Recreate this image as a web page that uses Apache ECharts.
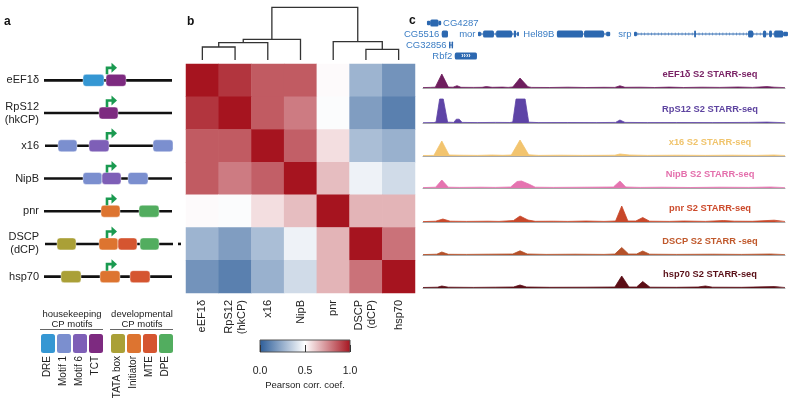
<!DOCTYPE html>
<html><head><meta charset="utf-8">
<script src="https://cdn.jsdelivr.net/npm/echarts@6/dist/echarts.min.js"></script>
<style>html,body{margin:0;padding:0;background:#fff}#c{width:800px;height:407px}</style>
</head><body><div id="c"></div>
<script>
// ================= DATA =================
// Panel a: promoter schematics
const promoters = ['eEF1δ','RpS12\n(hkCP)','x16','NipB','pnr','DSCP\n(dCP)','hsp70'];
const motifNames = ['DRE','Motif 1','Motif 6','TCT','TATA box','Initiator','MTE','DPE'];
const motifGroupTitles = ['housekeeping\nCP motifs','developmental\nCP motifs'];
const motifGroupMembers = [[0,1,2,3],[4,5,6,7]];
// [start, promoterIndex, end, motifIndex] (schematic units)
const promoterMotifs = [
  [39,0,60,0],[62,0,82,3],
  [55,1,74,3],
  [14,2,33,1],[45,2,65,2],[109,2,129,1],
  [39,3,58,1],[58,3,77,2],[84,3,104,1],
  [57,4,76,5],[95,4,115,7],
  [13,5,32,4],[55,5,74,5],[74,5,93,6],[96,5,115,7],
  [17,6,37,4],[56,6,76,5],[86,6,106,6]
];
// [start, promoterIndex, end]
const promoterSpans = [[0,0,128],[0,1,128],[1,2,129],[0,3,128],[0,4,128],[1,5,129],[0,6,128],[134,5,137]];
// [TSS position, promoterIndex]
const tssPositions = [[63,0],[63,1],[63,2],[63,3],[63,4],[63,5],[63,6]];

// Panel b: correlation heatmap
const corrLabels = ['eEF1δ','RpS12\n(hkCP)','x16','NipB','pnr','DSCP\n(dCP)','hsp70'];
const corrMatrix = [
  [1.00,0.93,0.85,0.85,0.51,0.27,0.17],
  [0.93,1.00,0.85,0.78,0.49,0.20,0.11],
  [0.85,0.85,1.00,0.84,0.57,0.30,0.26],
  [0.85,0.78,0.84,1.00,0.64,0.46,0.39],
  [0.51,0.49,0.57,0.64,1.00,0.66,0.66],
  [0.27,0.20,0.30,0.46,0.66,1.00,0.80],
  [0.17,0.11,0.26,0.39,0.66,0.80,1.00]
];
// linkage: [nodeA, nodeB, height]  (leaves 0..6, merges 7..)
const dendroMerges = [[0,1,0.130],[7,2,0.173],[8,3,0.207],[5,6,0.107],[4,10,0.183],[9,11,0.527]];
const colorbarTicks = [0, 0.5, 1];
const colorbarTitle = 'Pearson corr. coef.';

// Panel c: genes (genomic units 0..100)
const geneNames = ['CG4287','CG5516','CG32856','Rbf2','mor','Hel89B','srp'];
const geneSpans = [[0,1.1,5.0],[1,5.2,6.9],[2,7.2,8.3],[3,8.8,14.9],[1,15.2,26.5],[1,37.0,51.7],[1,58.3,100.8]]; // [row,start,end]
const geneExons = [
  [[1.1,2.0,0],[2.0,4.3,1],[4.3,5.0,0]],
  [[5.2,6.9,1]],
  [[7.2,7.6,1],[7.9,8.3,1]],
  [[8.8,14.9,1]],
  [[15.2,16.0,0],[16.6,19.6,1],[20.2,24.6,1],[25.1,25.7,1],[26.0,26.5,0]],
  [[37.0,44.2,1],[44.5,50.0,1],[50.6,51.7,0]],
  [[58.3,59.1,0],[74.9,75.4,1],[89.8,91.2,1],[93.9,94.8,1],[95.6,96.4,1],[97.0,99.5,1],[99.5,100.8,0]]
];
const geneLabelSide = ['right','left','left','left','left','left','left'];
const geneStrandMarks = [0,0,0,1,0,0,0];

// STARR-seq tracks: [position, signal]
const trackNames = ['eEF1δ S2 STARR-seq','RpS12 S2 STARR-seq','x16 S2 STARR-seq','NipB S2 STARR-seq','pnr S2 STARR-seq','DSCP S2 STARR -seq','hsp70 S2 STARR-seq'];
const signalEEF1d = [[0,0.4],[2,0.6],[3.4,0.8],[5.2,14],[7,0.9],[8.3,0.8],[9.4,2.3],[10.5,0.7],[14,0.6],[16.3,0.7],[17.5,1.4],[19.1,0.7],[22,0.9],[23.5,0.6],[24.8,1],[26.8,10],[29,1.2],[30,0.6],[35,0.5],[40,0.8],[45,0.5],[50,0.7],[53,0.6],[54.4,2.2],[55.8,0.7],[60,0.8],[64,0.5],[68,0.9],[72,0.5],[77,0.8],[82,0.6],[87,1],[91,0.6],[95,1.4],[97,0.8],[100,0.4]];
const signalRpS12 = [[0,0.3],[3,0.4],[3.6,1],[4.6,24],[5.6,24],[6.8,0.8],[8.5,0.6],[9.2,3.8],[10,3.8],[10.8,0.6],[15,0.4],[20,0.6],[24,0.5],[24.8,1],[25.7,24],[28.2,24],[29.2,0.8],[32,0.4],[40,0.5],[48,0.4],[53.2,0.6],[54.4,3],[55.8,0.6],[62,0.4],[70,0.5],[80,0.4],[90,0.6],[95,0.9],[100,0.3]];
const signalX16 = [[0,0.5],[3,0.6],[3.4,1],[5.2,15],[7.2,1],[10,0.8],[15,0.6],[19,1],[22,0.7],[24.4,1],[26.8,16],[29.2,1.2],[32,0.6],[38,0.8],[44,0.6],[50,0.7],[53,0.8],[54.4,2],[57,1],[62,0.6],[70,0.8],[78,0.6],[85,0.8],[92,0.6],[97,1],[100,0.5]];
const signalNipB = [[0,0.4],[3.5,0.8],[5.2,8],[7,0.8],[10,0.6],[16,0.8],[20,0.6],[24.2,1],[26,6.5],[27.2,7],[29.5,3.5],[31,0.8],[36,0.6],[45,0.8],[52.6,1],[54.4,7],[56,1],[60,0.6],[66,0.8],[74,0.5],[82,0.8],[90,0.6],[96,1],[100,0.4]];
const signalPnr = [[0,0.4],[3.5,0.8],[5.5,3],[7.5,0.8],[12,0.6],[18,0.8],[21,0.6],[25,1.5],[26.8,6],[29,2],[31,0.7],[36,0.8],[40,0.6],[45,1],[50,0.6],[53.2,1],[54.9,16],[56.6,1],[58.8,1],[60.7,4.5],[62.6,0.8],[68,0.6],[72,1],[78,0.6],[83,1.5],[86,0.8],[91,0.7],[97,1.8],[100,0.5]];
const signalDSCP = [[0,0.4],[3.8,0.8],[5.2,3],[7,0.7],[12,0.6],[18,0.8],[24.8,1],[26.8,4.2],[28.8,1],[34,0.6],[42,0.8],[50,0.6],[53,1],[54.9,7.5],[56.8,1],[59,1],[60.7,4],[62.6,0.8],[70,0.6],[80,0.8],[88,0.6],[96,1],[100,0.4]];
const signalHsp70 = [[0,0.5],[4,0.8],[5.2,2],[7,0.8],[14,0.6],[20,0.8],[25,1],[26.8,3],[28.6,1],[35,0.7],[45,0.8],[53,1],[54.9,12],[56.9,1],[59,1],[60.7,6.5],[62.7,0.8],[70,0.7],[76,1],[78,2],[80,0.8],[88,0.7],[97,1.4],[100,0.5]];
const trackSignals = [signalEEF1d, signalRpS12, signalX16, signalNipB, signalPnr, signalDSCP, signalHsp70];

// ================= STYLE =================
const FONT = '"Liberation Sans", Arial, Helvetica, sans-serif';
const motifColors = ['#3597d3','#7b8fcf','#7e5fb7','#7d2a80','#aaa037','#dd7430','#d55530','#52ad5f'];
const heatColors = ['#2b5c98','#ffffff','#a6141f'];
const tssColor = '#1a9a50';
const geneColor = '#2c68b0', geneLabelColor = '#3b7dc4';
const trackColors = ['#6e1e5e','#5e44a6','#f2c46f','#e574b0','#c8472a','#b4512a','#5b0e16'];
const trackLabelColors = ['#7a2466','#5e44a0','#f0c46c','#e46fac','#cc4b2c','#c0592c','#5a1018'];
const trackBaselines = [88,123,156,188,222,255,288];
const trackHeight = 26;

// ================= BUILD =================
const chart = echarts.init(document.getElementById('c'));

const dendroNodes = (function(){
  const nodes = [];
  for (let i = 0; i < corrLabels.length; i++) nodes.push({x: i + 0.5, h: 0});
  dendroMerges.forEach(m => nodes.push({x: (nodes[m[0]].x + nodes[m[1]].x) / 2, h: m[2]}));
  return nodes;
})();

const heatData = [];
corrMatrix.forEach((row, r) => row.forEach((v, c) => heatData.push([c, r, v])));

const grids = [
  {left:44, top:64, width:130, height:229},
  {left:186, top:64, width:229, height:229},
  {left:186, top:7, width:229, height:53},
  {left:260, top:340, width:90, height:12, show:true,
   backgroundColor: new echarts.graphic.LinearGradient(0,0,1,0,[
     {offset:0,color:heatColors[0]},{offset:0.5,color:heatColors[1]},{offset:1,color:heatColors[2]}]),
   borderColor:'#555', borderWidth:1},
  {left:423, top:17.5, width:362, height:44}
];
const xAxes = [
  {gridIndex:0, type:'value', min:0, max:130, show:false},
  {gridIndex:1, type:'category', data:corrLabels, axisLine:{show:false}, axisTick:{show:false},
   axisLabel:{rotate:90, margin:7, fontSize:11, color:'#222', lineHeight:13, interval:0, fontFamily:FONT}},
  {gridIndex:2, type:'value', min:0, max:7, show:false},
  {gridIndex:3, type:'value', min:0, max:1, interval:0.5,
   axisLine:{show:false}, splitLine:{show:false},
   axisTick:{show:true, inside:true, length:7, lineStyle:{color:'#333', width:1}},
   axisLabel:{margin:14, fontSize:10.5, color:'#222', fontFamily:FONT, formatter: v => colorbarTicks.indexOf(v) >= 0 ? v.toFixed(1) : ''},
   name: colorbarTitle, nameLocation:'middle', nameGap:28,
   nameTextStyle:{fontSize:9.5, color:'#222', fontFamily:FONT}},
  {gridIndex:4, type:'value', min:0, max:100, show:false}
];
const yAxes = [
  {gridIndex:0, type:'category', data:promoters, inverse:true, axisLine:{show:false}, axisTick:{show:false},
   axisLabel:{fontSize:11, color:'#222', margin:5, lineHeight:13, fontFamily:FONT}},
  {gridIndex:1, type:'category', data:corrLabels, inverse:true, show:false},
  {gridIndex:2, type:'value', min:0, max:0.53, show:false},
  {gridIndex:3, type:'value', min:0, max:1, show:false},
  {gridIndex:4, type:'value', min:0, max:4, inverse:true, show:false}
];
const series = [];

// Panel a lines
series.push({type:'custom', xAxisIndex:0, yAxisIndex:0, silent:true, z:2, data:promoterSpans,
  renderItem(params, api){
    const a = api.coord([api.value(0), api.value(1)]);
    const b = api.coord([api.value(2), api.value(1)]);
    return {type:'line', shape:{x1:a[0], y1:a[1], x2:b[0], y2:b[1]}, style:{stroke:'#111', lineWidth:2.6}};
  }});
// Panel a motif boxes
series.push({type:'custom', xAxisIndex:0, yAxisIndex:0, silent:true, z:3, data:promoterMotifs,
  renderItem(params, api){
    const a = api.coord([api.value(0), api.value(1)]);
    const b = api.coord([api.value(2), api.value(1)]);
    const h = 12;
    return {type:'rect', shape:{x:a[0], y:a[1]-h/2, width:b[0]-a[0], height:h, r:3},
      style:{fill:motifColors[api.value(3)], stroke:'rgba(255,255,255,0.55)', lineWidth:0.8}};
  }});
// TSS arrows
series.push({type:'custom', xAxisIndex:0, yAxisIndex:0, silent:true, z:4, data:tssPositions,
  renderItem(params, api){
    const p = api.coord([api.value(0), api.value(1)]);
    const x = p[0], y = p[1];
    return {type:'group', children:[
      {type:'polyline', shape:{points:[[x,y-6],[x,y-12.5],[x+5,y-12.5]]}, style:{stroke:tssColor, lineWidth:2.6, fill:null}},
      {type:'polygon', shape:{points:[[x+4.5,y-17.5],[x+10,y-12.5],[x+4.5,y-7.5]]}, style:{fill:tssColor}}
    ]};
  }});
// Heatmap
const heatIndex = series.length;
series.push({type:'heatmap', xAxisIndex:1, yAxisIndex:1, data:heatData, silent:true,
  itemStyle:{borderWidth:0}, emphasis:{disabled:true}});
// Dendrogram
series.push({type:'custom', xAxisIndex:2, yAxisIndex:2, silent:true, data:dendroMerges,
  renderItem(params, api){
    const m = dendroMerges[params.dataIndex];
    const a = dendroNodes[m[0]], b = dendroNodes[m[1]];
    const pts = [api.coord([a.x,a.h]), api.coord([a.x,m[2]]), api.coord([b.x,m[2]]), api.coord([b.x,b.h])];
    return {type:'polyline', shape:{points:pts}, style:{stroke:'#333', lineWidth:1.3, fill:null}};
  }});
// Genes
series.push({type:'custom', xAxisIndex:4, yAxisIndex:4, silent:true, data:geneSpans,
  renderItem(params, api){
    const i = params.dataIndex;
    const row = api.value(0) + 0.5;
    const s = api.coord([api.value(1), row]);
    const e = api.coord([api.value(2), row]);
    const y = s[1];
    const kids = [
      {type:'line', shape:{x1:s[0], y1:y, x2:e[0], y2:y}, style:{stroke:geneColor, lineWidth:1}},
      {type:'line', shape:{x1:s[0], y1:y, x2:e[0], y2:y}, style:{stroke:geneColor, lineWidth:3, lineDash:[0.8,2.6], opacity:0.6}}
    ];
    geneExons[i].forEach(ex => {
      const a = api.coord([ex[0], row]), b = api.coord([ex[1], row]);
      const h = ex[2] ? 7 : 4.5;
      kids.push({type:'rect', shape:{x:a[0], y:y-h/2, width:Math.max(1.2,b[0]-a[0]), height:h, r:ex[2]?1.5:1}, style:{fill:geneColor}});
    });
    if (geneStrandMarks[i]) {
      kids.push({type:'text', style:{text:'››››', x:(s[0]+e[0])/2, y:y, align:'center', verticalAlign:'middle', fill:'#fff', font:'bold 7px '+FONT}});
    }
    const right = geneLabelSide[i] === 'right';
    kids.push({type:'text', style:{text:geneNames[i], x: right ? e[0]+2 : s[0]-2.5, y:y, align: right ? 'left':'right',
      verticalAlign:'middle', fill:geneLabelColor, font:'9.5px '+FONT}});
    return {type:'group', children:kids};
  }});
// Tracks
trackSignals.forEach((sig, i) => {
  const gi = grids.length;
  grids.push({left:423, top:trackBaselines[i]-trackHeight, width:362, height:trackHeight});
  xAxes.push({gridIndex:gi, type:'value', min:0, max:100, axisLine:{show:true, onZero:true, lineStyle:{color:'#a8a8a8', width:1}},
    axisTick:{show:false}, axisLabel:{show:false}, splitLine:{show:false}});
  yAxes.push({gridIndex:gi, type:'value', min:0, max:trackHeight, show:false});
  series.push({type:'line', xAxisIndex:gi, yAxisIndex:gi, data:sig, symbol:'none', silent:true, z:3,
    lineStyle:{color:trackColors[i], width:0.8}, areaStyle:{color:trackColors[i], opacity:1}});
});

// Graphic: panel letters, legend, track labels
const graphic = [];
[['a',4,22],['b',187,22],['c',409,21]].forEach(l => graphic.push({type:'text', silent:true,
  style:{text:l[0], x:l[1], y:l[2], verticalAlign:'middle', font:'bold 12px '+FONT, fill:'#111'}}));
const groupX = [41, 111];
motifGroupMembers.forEach((members, g) => {
  const x0 = groupX[g], x1 = x0 + 16*(members.length-1) + 14;
  graphic.push({type:'text', silent:true, style:{text:motifGroupTitles[g], x:(x0+x1)/2, y:319.5, align:'center', verticalAlign:'middle',
    font:'9.5px '+FONT, fill:'#222', lineHeight:10.5}});
  graphic.push({type:'line', silent:true, shape:{x1:x0-1, y1:329.5, x2:x1, y2:329.5}, style:{stroke:'#666', lineWidth:1}});
  members.forEach((m, k) => {
    const x = x0 + 16*k;
    graphic.push({type:'rect', silent:true, shape:{x:x, y:334, width:14, height:19, r:2.5}, style:{fill:motifColors[m]}});
    graphic.push({type:'text', silent:true, x:x+6, y:356, rotation:Math.PI/2,
      style:{text:motifNames[m], x:0, y:0, align:'right', verticalAlign:'middle', font:'10px '+FONT, fill:'#222'}});
  });
});
trackNames.forEach((t, i) => graphic.push({type:'text', silent:true,
  style:{text:t, x:710, y:trackBaselines[i]-14, align:'center', verticalAlign:'middle', font:'bold 9.3px '+FONT, fill:trackLabelColors[i]}}));

chart.setOption({
  animation:false,
  backgroundColor:'#fff',
  textStyle:{fontFamily:FONT},
  grid:grids, xAxis:xAxes, yAxis:yAxes,
  visualMap:[{type:'continuous', show:false, min:0, max:1, dimension:2, seriesIndex:heatIndex, inRange:{color:heatColors}}],
  series:series,
  graphic:graphic
});
</script></body></html>
